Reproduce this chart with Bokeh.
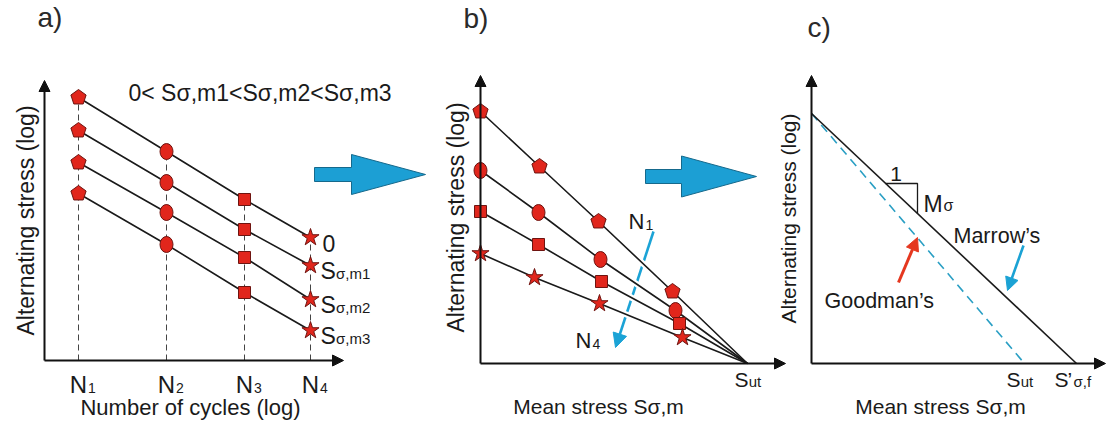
import numpy as np
from bokeh.plotting import figure
from bokeh.models import Range1d, Arrow, NormalHead
from bokeh.core.properties import value
from bokeh.embed import file_html
from bokeh.resources import INLINE

# ------------------------------------------------------------------ data
# a) S-N curves (log-log, arbitrary units) for increasing mean stress
n_names = ["1", "2", "3", "4"]
log_N = [3.4, 12.2, 20.0, 26.6]
sa_m0 = [26.3, 20.9, 16.1, 12.3]
sa_m1 = [23.0, 17.8, 13.1, 9.5]
sa_m2 = [19.8, 14.8, 10.3, 6.1]
sa_m3 = [16.7, 11.6, 6.8, 3.0]
mean_names = ["0", "σ,m1", "σ,m2", "σ,m3"]

# b) constant-life lines, one per N (alternating vs mean stress)
b_sut = 26.7
b_N1_x = [0.0, 5.9, 11.8, 19.2]
b_N1_y = [25.2, 19.7, 14.2, 7.2]
b_N2_x = [0.0, 5.8, 12.0, 19.5]
b_N2_y = [19.3, 15.1, 10.4, 5.3]
b_N3_x = [0.0, 5.8, 12.1, 19.9]
b_N3_y = [15.2, 11.9, 8.2, 4.0]
b_N4_x = [0.0, 5.4, 11.9, 20.2]
b_N4_y = [11.0, 8.6, 6.0, 2.6]

# c) Goodman vs Marrow lines
c_sa0 = 25.0
c_sut = 21.3
c_sf = 26.5

# ------------------------------------------------------------------ layout
W, H = 1106, 422
PANELS = {"a": (44, 360, 10.0), "b": (480, 363, 10.0), "c": (811, 363, 10.0)}

INK = "#1a1a1a"
RED = "#e1261c"
RED_EDGE = "#6e1410"
BLUE = "#1c9fd4"
BLUE_EDGE = "#15698c"
FONT = "Liberation Sans"

p = figure(width=W, height=H, x_range=Range1d(0, W), y_range=Range1d(H, 0),
           toolbar_location=None, output_backend="svg", min_border=0,
           x_axis_type=None, y_axis_type=None, outline_line_color=None,
           background_fill_color="white", border_fill_color="white")

for name, (ox, oy, s) in PANELS.items():
    p.extra_x_ranges[name] = Range1d(-ox / s, (W - ox) / s)
    p.extra_y_ranges[name] = Range1d((oy - H) / s, oy / s)


def R(panel):
    return dict(x_range_name=panel, y_range_name=panel)


def txt(panel, x, y, s, size, align="left", baseline="alphabetic", angle=0.0, color=INK):
    # y given as the alphabetic baseline; drawn with a middle anchor
    if baseline == "alphabetic":
        y = y + 0.3465 * size / PANELS[panel][2]
        baseline = "middle"
    p.text(x=[x], y=[y], text=[s], text_font=value(FONT), text_font_size=f"{size}px",
           text_align=align, text_baseline=baseline, angle=angle, text_color=color, **R(panel))


def axis_arrow(panel, x1, y1):
    p.add_layout(Arrow(end=NormalHead(size=11, fill_color="#111111", line_color="#111111", line_width=1),
                       x_start=0, y_start=0, x_end=x1, y_end=y1, line_width=2,
                       line_color="#111111", **R(panel)))


def thin_arrow(panel, x0, y0, x1, y1, color, lw, size, level="annotation"):
    a = Arrow(end=NormalHead(size=size, fill_color=color, line_color=color, line_width=1),
              x_start=x0, y_start=y0, x_end=x1, y_end=y1, line_width=lw, line_color=color,
              level=level, **R(panel))
    p.add_layout(a)


def big_arrow(panel, x_tail, x_base, x_tip, yc, hs, hh):
    xs = [x_tail, x_base, x_base, x_tip, x_base, x_base, x_tail]
    ys = [yc + hs, yc + hs, yc + hh, yc, yc - hh, yc - hs, yc - hs]
    p.patch(xs, ys, fill_color=BLUE, line_color=BLUE_EDGE, line_width=1, **R(panel))


def pentagons(panel, xs, ys, r_px):
    s = PANELS[panel][2]
    r = r_px / s
    ang = np.deg2rad(90 + 72 * np.arange(5))
    px = [list(x + r * np.cos(ang)) for x in xs]
    py = [list(y + r * np.sin(ang)) for y in ys]
    p.patches(px, py, fill_color=RED, line_color=RED_EDGE, line_width=1, **R(panel))


def ellipses(panel, xs, ys):
    p.ellipse(x=xs, y=ys, width=13, height=16, width_units="screen", height_units="screen",
              fill_color=RED, line_color=RED_EDGE, line_width=1, **R(panel))


def squares(panel, xs, ys):
    p.scatter(x=xs, y=ys, marker="square", size=12, fill_color=RED, line_color=RED_EDGE,
              line_width=1, **R(panel))


def stars(panel, xs, ys):
    p.scatter(x=xs, y=ys, marker="star", size=18, fill_color=RED, line_color=RED_EDGE,
              line_width=1, **R(panel))


# ================================================================== panel a
series_a = [sa_m0, sa_m1, sa_m2, sa_m3]
tops = np.max(np.array(series_a), axis=0)
p.segment(x0=log_N, y0=[0] * 4, x1=log_N, y1=list(tops), line_color="#444444",
          line_width=1, line_dash="6 4", **R("a"))
for sr in series_a:
    p.line(log_N, sr, line_color=INK, line_width=1.6, **R("a"))
col = lambda j: [sr[j] for sr in series_a]
pentagons("a", [log_N[0]] * 4, col(0), 8)
ellipses("a", [log_N[1]] * 4, col(1))
squares("a", [log_N[2]] * 4, col(2))
stars("a", [log_N[3]] * 4, col(3))
axis_arrow("a", 0, 28.0)
axis_arrow("a", 29.9, 0)

for j, nm in enumerate(n_names):
    txt("a", log_N[j], -3.2, "N", 24, align="center")
    txt("a", log_N[j] + 0.95, -3.2, nm, 14)
txt("a", 14.6, -5.5, "Number of cycles (log)", 22, align="center")
txt("a", -1.9, 14.0, "Alternating stress (log)", 23, align="center", baseline="middle", angle=np.pi / 2)
txt("a", -0.7, 34.3, "a)", 28, baseline="middle", color="#2a2a2a")
txt("a", 8.4, 26.8, "0< Sσ,m1<Sσ,m2<Sσ,m3", 23, baseline="middle")

for i, nm in enumerate(mean_names):
    yb = series_a[i][3] - 1.35
    if nm == "0":
        txt("a", 27.8, yb, "0", 23)
    else:
        txt("a", 27.6, yb, "S", 23)
        txt("a", 29.15, yb, nm, 15)

big_arrow("a", 27.0, 30.7, 38.1, 18.6, 0.7, 2.0)

# ================================================================== panel b
thin_arrow("b", 17.3, 13.2, 13.5, 1.6, "#1ba3d6", 2.6, 14, level="underlay")
lines_b = [(b_N1_x, b_N1_y), (b_N2_x, b_N2_y), (b_N3_x, b_N3_y), (b_N4_x, b_N4_y)]
for xs, ys in lines_b:
    p.line(xs + [b_sut], ys + [0], line_color="white", line_width=6, **R("b"))
for xs, ys in lines_b:
    p.line(xs + [b_sut], ys + [0], line_color=INK, line_width=1.6, **R("b"))
pentagons("b", b_N1_x, b_N1_y, 8)
ellipses("b", b_N2_x, b_N2_y)
squares("b", b_N3_x, b_N3_y)
stars("b", b_N4_x, b_N4_y)
axis_arrow("b", 0, 28.8)
axis_arrow("b", 30.5, 0)

txt("b", 14.8, 13.4, "N", 22)
txt("b", 14.8 + 1.7, 13.4, "1", 14)
txt("b", 9.5, 1.5, "N", 22)
txt("b", 9.5 + 1.7, 1.5, "4", 14)
txt("b", 25.4, -2.3, "S", 21)
txt("b", 25.4 + 1.42, -2.3, "ut", 15)
txt("b", 11.8, -5.0, "Mean stress Sσ,m", 21, align="center")
txt("b", -2.5, 14.6, "Alternating stress (log)", 23, align="center", baseline="middle", angle=np.pi / 2)
txt("b", -1.7, 34.5, "b)", 28, baseline="middle", color="#2a2a2a")

big_arrow("b", 16.5, 20.1, 27.6, 18.7, 0.7, 2.05)

# ================================================================== panel c
p.line([0, c_sut], [c_sa0, 0], line_color="#2a9fc4", line_width=1.6, line_dash="9 6", **R("c"))
p.line([0, c_sf], [c_sa0, 0], line_color=INK, line_width=1.6, **R("c"))
p.line([7.4, 10.6, 10.6], [18.0, 18.0, 15.0], line_color=INK, line_width=1.3, **R("c"))
axis_arrow("c", 0, 28.8)
axis_arrow("c", 29.4, 0)

thin_arrow("c", 8.7, 8.1, 10.6, 12.6, "#e5371f", 3, 13)
thin_arrow("c", 21.2, 11.8, 19.6, 7.3, "#1ba2d4", 2.6, 13)

txt("c", 8.45, 18.2, "1", 21, align="center")
txt("c", 11.2, 15.2, "M", 23)
txt("c", 13.2, 15.2, "σ", 16)
txt("c", 14.2, 12.0, "Marrow’s", 21.5)
txt("c", 1.3, 5.5, "Goodman’s", 21.5)
txt("c", 19.5, -2.3, "S", 21)
txt("c", 19.5 + 1.42, -2.3, "ut", 15)
txt("c", 24.3, -2.3, "S", 21)
txt("c", 25.6, -2.3, "’", 21)
txt("c", 26.2, -2.3, "σ,f", 15)
txt("c", 12.9, -5.0, "Mean stress Sσ,m", 21, align="center")
txt("c", -2.3, 14.5, "Alternating stress (log)", 21, align="center", baseline="middle", angle=np.pi / 2)
txt("c", -0.4, 33.6, "c)", 28, baseline="middle", color="#2a2a2a")

open("out.html", "w").write(file_html(p, INLINE))
